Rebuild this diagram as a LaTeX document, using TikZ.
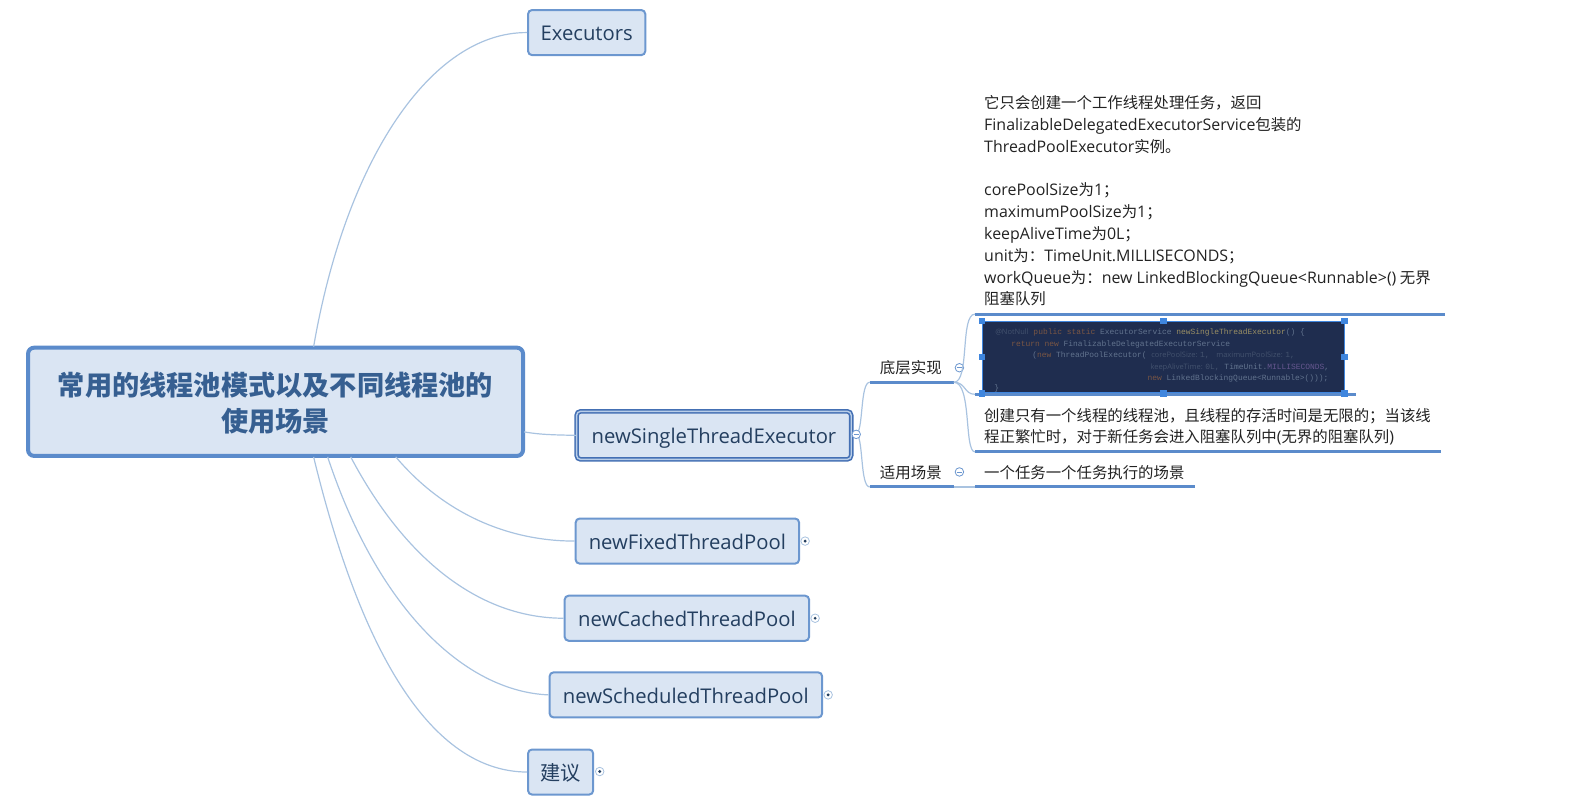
\documentclass[tikz,border=0pt]{standalone}
\usepackage{fontspec}
\setmainfont{Noto Sans CJK SC}
\newfontfamily\lat{Open Sans}
\newfontfamily\latn[Scale=1.035]{Open Sans}
\newfontfamily\codefont{Liberation Mono}
\usetikzlibrary{calc}
\newdimen\px \px=0.7515pt
\definecolor{linkblue}{HTML}{A9C3E0}
\definecolor{edgeblue}{HTML}{6C97CF}
\definecolor{ruleblue}{HTML}{5B8BCB}
\definecolor{boxfill}{HTML}{DAE5F3}
\definecolor{darkborder}{HTML}{4470B4}
\definecolor{titlecol}{HTML}{365F91}
\definecolor{topiccol}{HTML}{243F60}
\definecolor{notecol}{HTML}{222222}
\definecolor{codebg}{HTML}{1F2D4F}
\definecolor{cplain}{HTML}{62738E}
\definecolor{ckey}{HTML}{7A5644}
\definecolor{cfn}{HTML}{9A8F64}
\definecolor{cdim}{HTML}{43526E}
\definecolor{cconst}{HTML}{66578F}
\definecolor{handle}{HTML}{3F86DE}
\tikzset{
  x=0.7515pt,y=-0.7515pt,
  link/.style={draw=linkblue,line width=1.2\px},
  rulethick/.style={draw=ruleblue,line width=3\px},
  rootbox/.style={draw=ruleblue,fill=boxfill,line width=4\px,rounded corners=6\px,minimum width=494\px,minimum height=108\px,align=center,text=titlecol,font=\fontsize{20.4pt}{27pt}\selectfont\bfseries,inner sep=0pt},
  topic/.style={draw=edgeblue,fill=boxfill,line width=2\px,rounded corners=4\px,minimum height=45\px,text=topiccol,font=\fontsize{15.2pt}{20pt}\selectfont,inner sep=0pt,text height=16pt,text depth=3.5pt},
  selectedtopic/.style={topic,draw=darkborder,double=boxfill!70!edgeblue,line width=1.6\px,double distance=1.4\px,minimum height=48\px},
  note/.style={anchor=north west,align=left,inner sep=0pt,text=notecol,font=\fontsize{11.55pt}{16.35pt}\selectfont},
  label/.style={anchor=center,inner sep=0pt,text=notecol,font=\fontsize{11.6pt}{16pt}\selectfont},
  toggle/.style={circle,draw=#1,fill=white,line width=0.8\px,minimum size=8.5\px,inner sep=0pt},
  toggle/.default=edgeblue,
  minussign/.style={toggle,path picture={\draw[edgeblue,line width=0.8\px] ($(path picture bounding box.center)+(-2.5,0)$)--($(path picture bounding box.center)+(2.5,0)$);}},
  plussign/.style={toggle=linkblue,path picture={\fill[topiccol] (path picture bounding box.center) circle (1.6\px);}},
  codeline/.style={anchor=base west,inner sep=0pt,font=\codefont\fontsize{5.95pt}{7pt}\selectfont,text=cplain},
  grip/.style={rectangle,fill=handle,minimum size=6.5\px,inner sep=0pt},
}
\newcommand{\hint}[1]{\textcolor{cdim}{\lat\fontsize{5.6pt}{7pt}\selectfont #1}}
\begin{document}
\begin{tikzpicture}
\useasboundingbox (0pt,0pt) rectangle (1178.25pt,-603pt);

% hub points
\coordinate (hubA) at (313,346);
\coordinate (hubB) at (395,456);
\coordinate (hubC) at (350,456);
\coordinate (hubD) at (327,456);
\coordinate (hubE) at (313,456);
\coordinate (hubF) at (523,431);

\node[rootbox] (root) at (275,401) {\raisebox{-8.6pt}[0pt][0pt]{常用的线程池模式以及不同线程池的}\\\raisebox{-8.6pt}[0pt][0pt]{使用场景}};
\node[topic,minimum width=117\px] (exec) at (585.5,32.5) {\lat Executors};
\node[selectedtopic,minimum width=274\px] (single) at (712.5,434.5) {\lat newSingleThreadExecutor};
\node[topic,minimum width=223\px] (fixed) at (686,540) {\lat newFixedThreadPool};
\node[topic,minimum width=244\px] (cached) at (685.5,617) {\lat newCachedThreadPool};
\node[topic,minimum width=272\px] (sched) at (684.5,693.5) {\lat newScheduledThreadPool};
\node[topic,minimum width=65\px] (advice) at (559.5,770.5) {建议};

\draw[link] (hubA) .. controls (345,160) and (430,32) .. (exec.west);
\draw[link] (hubF) .. controls (540,434) and (555,434) .. (single.west);
\draw[link] (hubB) .. controls (445,515) and (510,540) .. (fixed.west);
\draw[link] (hubC) .. controls (405,560) and (480,617) .. (cached.west);
\draw[link] (hubD) .. controls (378,610) and (465,690) .. (sched.west);
\draw[link] (hubE) .. controls (360,650) and (430,770) .. (advice.west);

% toggles on the topics
\node[plussign] (tgFixed) at (803.5,540) {};
\node[plussign] (tgCached) at (813.5,617) {};
\node[plussign] (tgSched) at (826.5,693.5) {};
\node[plussign] (tgAdvice) at (598.5,770) {};

% second level
\node[label] (impl) at (909,367) {底层实现};
\node[label] (usage) at (909,471.5) {适用场景};
\coordinate (implL) at (868,381.5);
\coordinate (implR) at (952,381.5);
\coordinate (useL) at (868,486);
\coordinate (useR) at (952,486);
\coordinate (fork) at (854,433);
\draw[link] (fork) .. controls (862,433) and (858,381.5) .. (implL);
\draw[link] (fork) .. controls (862,433) and (858,486) .. (useL);
\draw[rulethick] (implL) -- (implR);
\draw[rulethick] (useL) -- (useR);
\node[minussign] (tgImpl) at (957.5,367) {};
\node[minussign] (tgUse) at (957.5,471) {};
\node[minussign] (tgSingle) at (854.5,433.5) {};

% third level rules and links
\coordinate (ruleAL) at (973,313.5);
\coordinate (ruleAR) at (1442,313.5);
\coordinate (ruleBL) at (973,393.5);
\coordinate (ruleBR) at (1353,393.5);
\coordinate (ruleCL) at (973,451);
\coordinate (ruleCR) at (1438,451);
\coordinate (ruleDL) at (973,486);
\coordinate (ruleDR) at (1193,486);
\draw[link] (implR) .. controls (968,381.5) and (958,313.5) .. (ruleAL);
\draw[link] (implR) .. controls (964,381.5) and (962,393.5) .. (ruleBL);
\draw[link] (implR) .. controls (970,381.5) and (962,451) .. (ruleCL);
\draw[link] (useR) -- (ruleDL);
\draw[rulethick] (ruleAL) -- (ruleAR);
\draw[rulethick] (ruleBL) -- (ruleBR);
\draw[rulethick] (ruleCL) -- (ruleCR);
\draw[rulethick] (ruleDL) -- (ruleDR);

% notes
\node[note] (noteA) at (982,95.2) {它只会创建一个工作线程处理任务，返回\\
{\latn FinalizableDelegatedExecutorService}包装的\\
{\latn ThreadPoolExecutor}实例。\\[16.35pt]
{\latn corePoolSize}为{\latn 1}；\\
{\latn maximumPoolSize}为{\latn 1}；\\
{\latn keepAliveTime}为{\latn 0L}；\\
{\latn unit}为：{\latn TimeUnit.MILLISECONDS}；\\
{\latn workQueue}为：{\latn new LinkedBlockingQueue<Runnable>()} 无界\\
阻塞队列};
\node[note] (noteB) at (982,407) {创建只有一个线程的线程池，且线程的存活时间是无限的；当该线\\
程正繁忙时，对于新任务会进入阻塞队列中{\latn (}无界的阻塞队列{\latn )}};
\node[note] (noteC) at (982,464) {一个任务一个任务执行的场景};

% code picture
\node[draw=handle,line width=1\px,fill=codebg,minimum width=361\px,minimum height=71\px,inner sep=0pt] (code) at (1161,356.5) {};
\node[codeline] (c1) at (993,334) {\hint{@NotNull} \textcolor{ckey}{public static} ExecutorService \textcolor{cfn}{newSingleThreadExecutor}() \{};
\node[codeline] (c2) at (1009,345.5) {\textcolor{ckey}{return new} FinalizableDelegatedExecutorService};
\node[codeline] (c3) at (1030,357) {(\textcolor{ckey}{new} ThreadPoolExecutor( \hint{corePoolSize: }\textcolor{cdim}{1,} \hint{ maximumPoolSize: }\textcolor{cdim}{1,}};
\node[codeline] (c4) at (1148,368.5) {\hint{keepAliveTime: }\textcolor{cdim}{0L,} TimeUnit.\textcolor{cconst}{MILLISECONDS},};
\node[codeline] (c5) at (1145,380) {\textcolor{ckey}{new} LinkedBlockingQueue<Runnable>()));};
\node[codeline] (c6) at (992,390) {\}};
\foreach \n/\a in {h1/north west,h2/north,h3/north east,h4/west,h5/east,h6/south west,h7/south,h8/south east}
  \node[grip] (\n) at (code.\a) {};
\end{tikzpicture}
\end{document}
